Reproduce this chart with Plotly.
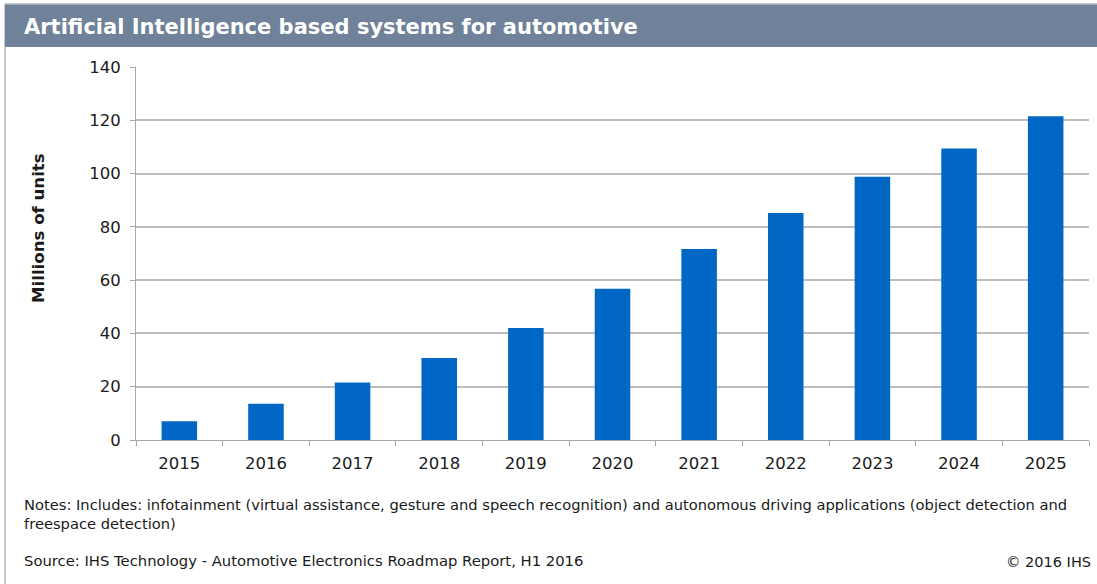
import plotly.graph_objects as go

years = ["2015", "2016", "2017", "2018", "2019", "2020", "2021", "2022", "2023", "2024", "2025"]
units = [7.0, 13.6, 21.6, 30.8, 42.0, 56.8, 71.7, 85.2, 98.8, 109.4, 121.5]
y_ticks = [0, 20, 40, 60, 80, 100, 120, 140]

title_text = "Artificial Intelligence based systems for automotive"
y_title = "Millions of units"
notes_text = ("Notes: Includes: infotainment (virtual assistance, gesture and speech recognition) and autonomous driving applications (object detection and<br>"
              "freespace detection)")
source_text = "Source: IHS Technology - Automotive Electronics Roadmap Report, H1 2016"
copy_text = "© 2016 IHS"

FONT = "DejaVu Sans, Liberation Sans, Arial, sans-serif"

W, H = 1097, 584
ML, MR, MT, MB = 136, 8, 67, 144
PW = W - ML - MR
PH = H - MT - MB


def px(x):
    return (x - ML) / PW


def py(y):
    return (H - MB - y) / PH


fig = go.Figure()
fig.add_trace(go.Bar(
    x=years, y=units,
    marker=dict(color="#0068C4", line=dict(width=0)),
    width=0.41,
    hoverinfo="x+y",
))

fig.update_layout(
    width=W, height=H,
    margin=dict(l=ML, r=MR, t=MT, b=MB),
    paper_bgcolor="white", plot_bgcolor="white",
    showlegend=False,
    font=dict(family=FONT, color="#1a1a1a"),
    xaxis=dict(
        type="category",
        showgrid=False,
        showline=True, linecolor="#A8A8A8", linewidth=1,
        ticks="outside", tickson="boundaries", ticklen=5, tickcolor="#A8A8A8",
        tickfont=dict(size=16.5, family=FONT, color="#1a1a1a"),
        ticklabelstandoff=8,
        zeroline=False,
    ),
    yaxis=dict(
        range=[0, 140],
        tickvals=y_ticks,
        showgrid=True, gridcolor="#BDBDBD", gridwidth=1.5,
        showline=True, linecolor="#A8A8A8", linewidth=1,
        ticks="outside", ticklen=5, tickcolor="#A8A8A8",
        tickfont=dict(size=16.5, family=FONT, color="#1a1a1a"),
        ticklabelstandoff=6,
        zeroline=False,
    ),
    shapes=[
        dict(type="line", xref="paper", yref="paper", x0=px(5), x1=px(5), y0=py(H), y1=py(4),
             line=dict(color="#B8B8B8", width=1.5)),
        dict(type="rect", xref="paper", yref="paper", x0=px(5), x1=px(W), y0=py(47), y1=py(4),
             line=dict(width=0), fillcolor="#6F8299"),
        dict(type="line", xref="paper", yref="paper", x0=px(5), x1=px(W), y0=py(4), y1=py(4),
             line=dict(color="#AEB6C0", width=1.5)),
    ],
    annotations=[
        dict(text="<b>" + title_text + "</b>", xref="paper", yref="paper",
             x=px(22), y=py(27), xanchor="left", yanchor="middle", showarrow=False,
             font=dict(size=21, color="white", family=FONT)),
        dict(text="<b>" + y_title + "</b>", xref="paper", yref="paper", textangle=-90,
             x=px(39), y=py(228), xanchor="center", yanchor="middle", showarrow=False,
             font=dict(size=16.6, color="#1a1a1a", family=FONT)),
        dict(text=notes_text, xref="paper", yref="paper", align="left",
             x=px(22), y=py(494), xanchor="left", yanchor="top", showarrow=False,
             font=dict(size=14.7, color="#1a1a1a", family=FONT)),
        dict(text=source_text, xref="paper", yref="paper",
             x=px(22), y=py(560), xanchor="left", yanchor="middle", showarrow=False,
             font=dict(size=14.8, color="#1a1a1a", family=FONT)),
        dict(text=copy_text, xref="paper", yref="paper",
             x=px(W - 4), y=py(562), xanchor="right", yanchor="middle", showarrow=False,
             font=dict(size=14.5, color="#1a1a1a", family=FONT)),
    ],
)

fig.write_html("out.html")
